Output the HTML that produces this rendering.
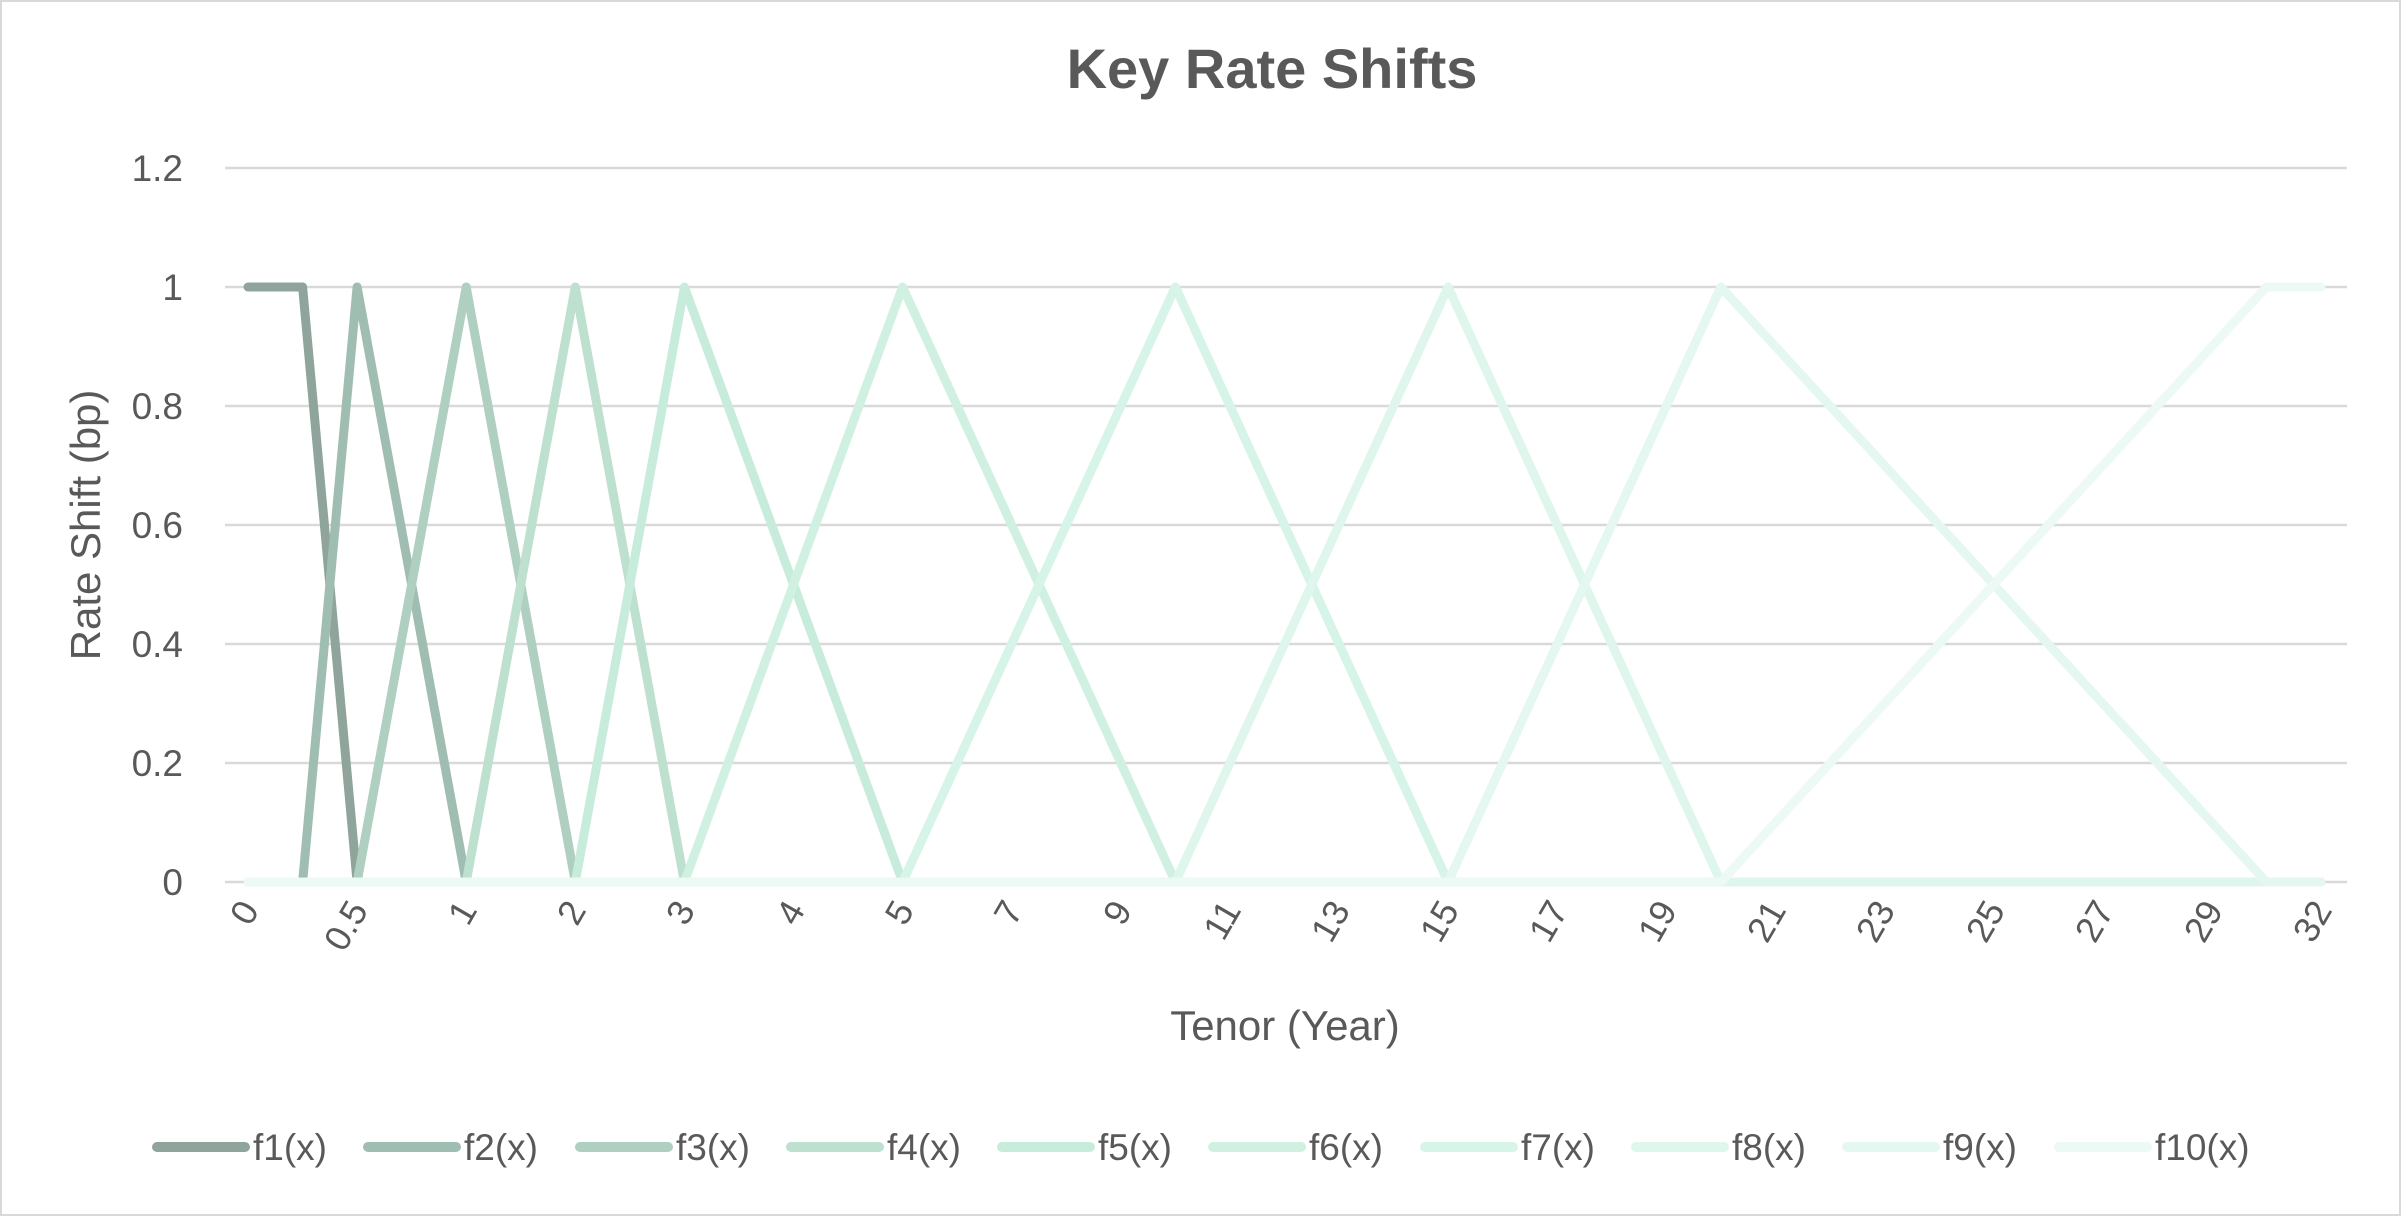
<!DOCTYPE html>
<html><head><style>
html,body{margin:0;padding:0;background:#fff;}
svg{display:block;font-family:"Liberation Sans",sans-serif;}
</style></head><body>
<svg width="2401" height="1216" viewBox="0 0 2401 1216" xmlns="http://www.w3.org/2000/svg">
<rect x="1" y="1" width="2399" height="1214" fill="#fff" stroke="#d9d9d9" stroke-width="2"/>
<text x="1272" y="88" text-anchor="middle" font-size="56" font-weight="bold" fill="#595959">Key Rate Shifts</text>
<g stroke="#d9d9d9" stroke-width="2.5">
<line x1="225" x2="2347" y1="168" y2="168"/>
<line x1="225" x2="2347" y1="287" y2="287"/>
<line x1="225" x2="2347" y1="406" y2="406"/>
<line x1="225" x2="2347" y1="525" y2="525"/>
<line x1="225" x2="2347" y1="644" y2="644"/>
<line x1="225" x2="2347" y1="763" y2="763"/>
<line x1="225" x2="2347" y1="882" y2="882"/>
</g>
<g font-size="37" fill="#595959" text-anchor="end">
<text x="183" y="181">1.2</text>
<text x="183" y="300">1</text>
<text x="183" y="419">0.8</text>
<text x="183" y="538">0.6</text>
<text x="183" y="657">0.4</text>
<text x="183" y="776">0.2</text>
<text x="183" y="895">0</text>
</g>
<text transform="translate(100,525) rotate(-90)" text-anchor="middle" font-size="42" fill="#595959">Rate Shift (bp)</text>
<text x="1285" y="1040" text-anchor="middle" font-size="42" fill="#595959">Tenor (Year)</text>
<g font-size="36" fill="#595959" text-anchor="end">
<text transform="translate(260,910) rotate(-60)">0</text>
<text transform="translate(369,910) rotate(-60)">0.5</text>
<text transform="translate(478,910) rotate(-60)">1</text>
<text transform="translate(587,910) rotate(-60)">2</text>
<text transform="translate(696,910) rotate(-60)">3</text>
<text transform="translate(806,910) rotate(-60)">4</text>
<text transform="translate(915,910) rotate(-60)">5</text>
<text transform="translate(1024,910) rotate(-60)">7</text>
<text transform="translate(1133,910) rotate(-60)">9</text>
<text transform="translate(1242,910) rotate(-60)">11</text>
<text transform="translate(1351,910) rotate(-60)">13</text>
<text transform="translate(1460,910) rotate(-60)">15</text>
<text transform="translate(1569,910) rotate(-60)">17</text>
<text transform="translate(1678,910) rotate(-60)">19</text>
<text transform="translate(1787,910) rotate(-60)">21</text>
<text transform="translate(1896,910) rotate(-60)">23</text>
<text transform="translate(2006,910) rotate(-60)">25</text>
<text transform="translate(2115,910) rotate(-60)">27</text>
<text transform="translate(2224,910) rotate(-60)">29</text>
<text transform="translate(2333,910) rotate(-60)">32</text>
</g>
<g fill="none" stroke-width="9" stroke-linecap="round" stroke-linejoin="round">
<polyline stroke="#8fa59b" points="248,287 302.6,287 357.1,882 2320.9,882"/>
<polyline stroke="#a0bdb2" points="248,882 302.6,882 357.1,287 466.2,882 2320.9,882"/>
<polyline stroke="#afcfc0" points="248,882 357.1,882 466.2,287 575.3,882 2320.9,882"/>
<polyline stroke="#bde0cf" points="248,882 466.2,882 575.3,287 684.4,882 2320.9,882"/>
<polyline stroke="#c8ecdc" points="248,882 575.3,882 684.4,287 902.6,882 2320.9,882"/>
<polyline stroke="#d0f1e2" points="248,882 684.4,882 902.6,287 1175.4,882 2320.9,882"/>
<polyline stroke="#d7f4e8" points="248,882 902.6,882 1175.4,287 1448.1,882 2320.9,882"/>
<polyline stroke="#dff6ed" points="248,882 1175.4,882 1448.1,287 1720.9,882 2320.9,882"/>
<polyline stroke="#e5f7f1" points="248,882 1448.1,882 1720.9,287 2266.4,882 2320.9,882"/>
<polyline stroke="#ecf9f5" points="248,882 1720.9,882 2266.4,287 2320.9,287"/>
</g>
<g font-size="37" fill="#595959" stroke-width="10" stroke-linecap="round">
<line x1="157" x2="245" y1="1147" y2="1147" stroke="#8fa59b"/><text x="253" y="1160">f1(x)</text>
<line x1="368" x2="456" y1="1147" y2="1147" stroke="#a0bdb2"/><text x="464" y="1160">f2(x)</text>
<line x1="580" x2="668" y1="1147" y2="1147" stroke="#afcfc0"/><text x="676" y="1160">f3(x)</text>
<line x1="791" x2="879" y1="1147" y2="1147" stroke="#bde0cf"/><text x="887" y="1160">f4(x)</text>
<line x1="1002" x2="1090" y1="1147" y2="1147" stroke="#c8ecdc"/><text x="1098" y="1160">f5(x)</text>
<line x1="1213" x2="1301" y1="1147" y2="1147" stroke="#d0f1e2"/><text x="1309" y="1160">f6(x)</text>
<line x1="1425" x2="1513" y1="1147" y2="1147" stroke="#d7f4e8"/><text x="1521" y="1160">f7(x)</text>
<line x1="1636" x2="1724" y1="1147" y2="1147" stroke="#dff6ed"/><text x="1732" y="1160">f8(x)</text>
<line x1="1847" x2="1935" y1="1147" y2="1147" stroke="#e5f7f1"/><text x="1943" y="1160">f9(x)</text>
<line x1="2059" x2="2147" y1="1147" y2="1147" stroke="#ecf9f5"/><text x="2155" y="1160">f10(x)</text>
</g>
</svg>
</body></html>
